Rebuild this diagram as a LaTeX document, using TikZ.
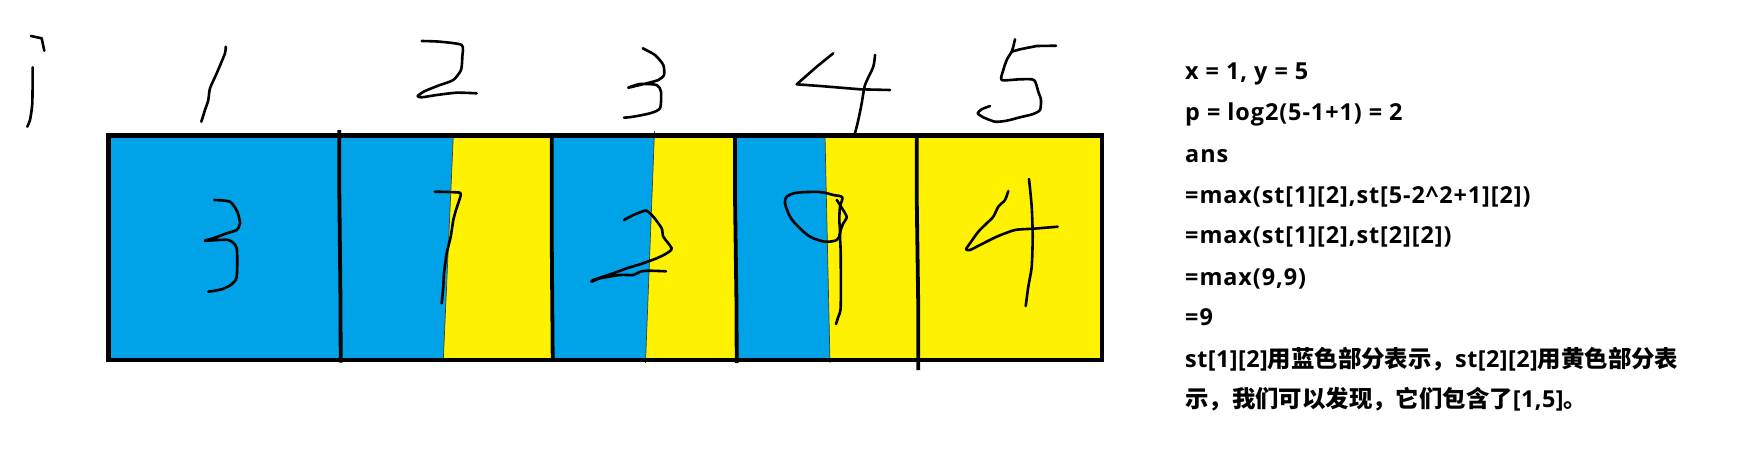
\documentclass[tikz,border=0pt]{standalone}
\usepackage{fontspec}
\setmainfont{Open Sans}[LetterSpace=4]
\newfontfamily\latn{Open Sans}[LetterSpace=2]
\newfontfamily\cjk{Noto Sans CJK SC}
\newcommand\zh[1]{{\cjk #1}}
\definecolor{pblue}{HTML}{00A2E8}
\definecolor{pyellow}{HTML}{FFF200}
\tikzset{
  hand/.style={draw=black, line width=2.6pt, line cap=round, line join=round},
  divider/.style={draw=black, line width=3.8pt},
  seam/.style={draw=black!75, line width=0.7pt},
  txt/.style={anchor=base west, inner sep=0pt, font=\bfseries\fontsize{23.4}{28}\selectfont}
}
\begin{document}
\begin{tikzpicture}[x=1pt,y=-1pt]
\useasboundingbox[fill=white] (0,0) rectangle (1757,452);
% cells
\fill[pyellow] (108.5,135.5) rectangle (1102,360);
\fill[pblue] (108.5,135.5) -- (453.3,135.5) -- (443.3,360) -- (108.5,360) -- cycle;
\fill[pblue] (552,135.5) -- (654.3,135.5) -- (645.7,360) -- (552,360) -- cycle;
\fill[pblue] (735.5,135.5) -- (825,135.5) -- (830,360) -- (735.5,360) -- cycle;
\draw[seam] (453.3,135.5) -- (443.3,360);
\draw[seam] (654.5,131) -- (645.5,363);
\draw[seam] (825,135.5) -- (830,363);
% dividers
\draw[divider] (339.3,130) -- (339.3,190) -- (340.5,303) -- (340.7,362.7);
\draw[divider] (551.7,135.5) -- (551.8,246) -- (552.7,360);
\draw[divider] (735,135.5) -- (735,196) -- (736.5,305) -- (736.7,363);
\draw[divider] (916.7,135.5) -- (916.7,196) -- (918.3,310) -- (918.3,370);
% border
\draw[line width=4.3pt] (108.5,135.5) rectangle (1102,360);
% top labels
\draw[hand] (31,36) -- (41.7,38.3) -- (44.3,50.7);
\draw[hand] plot[smooth,tension=0.4] coordinates {(32.7,67.3) (32.3,103.3) (30,120) (27.3,126.7)};
\draw[hand] plot[smooth,tension=0.4] coordinates {(225.7,46.7) (225,53.3) (216.7,73.3) (210,88.3) (208.3,100) (205,110) (201.3,121.7)};
\draw[hand] plot[smooth,tension=0.4] coordinates {(421.7,41) (440,41.7) (461.7,45) (462.3,56.7) (461,70) (453.3,80) (440,85) (425,91) (417.7,96) (421.7,97.3) (436.7,95) (456.7,92.7) (476.7,93.3)};
\draw[hand] plot[smooth,tension=0.4] coordinates {(642.7,48.3) (655,55) (663.3,65) (664,75) (658.3,80) (646.7,83.3) (628.3,87.7) (640,84) (656.7,85) (661,91.7) (660,108.3) (650,113.3) (633.3,116.7) (624,117.7)};
\draw[hand] (833.3,53.3) -- (816.7,66.7) -- (796.7,84.3) -- (820,86) -- (860,89.3) -- (890,90);
\draw[hand] plot[smooth,tension=0.4] coordinates {(875,55) (873.3,66.7) (865,85) (861.7,103.3) (858.3,120) (855,133.3)};
\draw[hand] (1015,39.3) -- (1013.3,46.7) -- (1011.7,51.7) -- (1020,49.3) -- (1036.7,46) -- (1056,45.7);
\draw[hand] plot[smooth,tension=0.4] coordinates {(1011.7,51.7) (1006.7,60) (1003.3,70) (1001.7,80) (1020,79.3) (1034,80) (1038.3,91.7) (1041,100) (1040,110) (1033.3,114) (1020,117.3) (1006.7,120.7) (995,121.7) (983.3,117.3) (977.7,113.3) (981.7,109.3) (990,106)};
% cell digits
\draw[hand] plot[smooth,tension=0.4] coordinates {(214.3,200) (230,201.7) (237.3,211.7) (240,223.3) (236.7,230) (226.7,233.3) (213.3,238.3) (205,240.7) (228.3,240) (236.7,248.3) (236.7,276.7) (231.7,284.3) (221.7,289.3) (208.3,291.7)};
\draw[hand] plot[smooth,tension=0.3] coordinates {(435,191.7) (460,192.7) (459.3,200) (456,210) (453.3,220) (450.7,236.7) (446.7,253.3) (444,273.3) (443.3,286.7) (441.7,303.3)};
\draw[hand] plot[smooth,tension=0.4] coordinates {(624,220) (633.3,215) (641.7,211.7) (646.7,210.7) (653.3,216.7) (661.7,228.3) (663.3,236.7) (671.7,248.3) (666.7,253.3) (656.7,258.3) (640,264.3) (626.7,268.3) (613.3,273.3) (593.3,280) (591.7,281.7) (600,278.3) (620,275) (633.3,275) (640,271.7) (648.3,270.7) (666,271.3)};
\draw[hand] plot[smooth cycle,tension=0.5] coordinates {(796.7,192.7) (820,192) (833.3,195) (842.3,197.3) (840,206.7) (839.3,220) (840,233.3) (836.7,240) (825,241.7) (810,236.7) (798.3,226.7) (790,216.7) (785,203.3) (786.7,196.7)};
\draw[hand] plot[smooth,tension=0.4] coordinates {(836.7,200) (840,205) (846.7,216.7) (843.3,223.3) (840,233.3) (840.7,253.3) (840.7,306.7) (838.3,316.7) (836,324)};
\draw[hand] plot[smooth,tension=0.4] coordinates {(1008.3,191) (1005,200) (998.3,206.7) (993.3,216.7) (986.7,223.3) (978.3,231.7) (970,243.3) (966,249.3) (970,250) (980,245) (996.7,236.7) (1015,230) (1033.3,228.7) (1057.7,226.7)};
\draw[hand] plot[smooth,tension=0.4] coordinates {(1029,179) (1031.7,206.7) (1032.7,236.7) (1031.7,266.7) (1028.3,286.7) (1025.7,306)};
% text
\node[txt] (l1) at (1185,80) {x = 1, y = 5};
\node[txt] (l2) at (1185,121) {p = log2(5-1+1) = 2};
\node[txt] (l3) at (1185,162) {ans};
\node[txt] (l4) at (1185,203) {=max(st[1][2],st[5-2\char94 2+1][2])};
\node[txt] (l5) at (1185,243) {=max(st[1][2],st[2][2])};
\node[txt] (l6) at (1185,285) {=max(9,9)};
\node[txt] (l7) at (1185,325) {=9};
\node[txt] (l8) at (1185,367) {\latn st[1][2]\zh{用蓝色部分表示，}st[2][2]\zh{用黄色部分表}};
\node[txt] (l9) at (1185,407) {\latn\zh{示，我们可以发现，它们包含了}[1,5]\zh{。}};
\end{tikzpicture}
\end{document}
